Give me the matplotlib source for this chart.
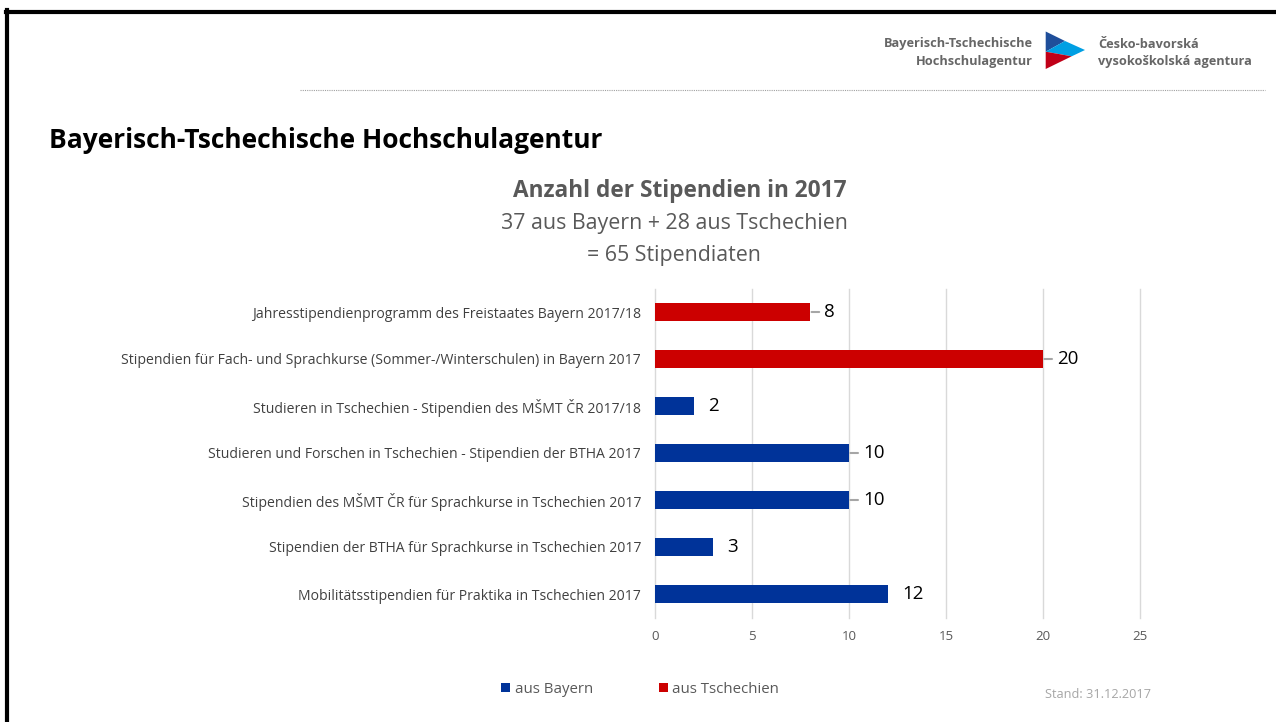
import matplotlib
matplotlib.use("Agg")
import matplotlib.pyplot as plt
from matplotlib.patches import Polygon, Rectangle
from matplotlib.lines import Line2D

plt.rcParams['font.family'] = ['Open Sans', 'DejaVu Sans']

# ---- data ----
categories = [
    "Jahresstipendienprogramm des Freistaates Bayern 2017/18",
    "Stipendien für Fach- und Sprachkurse (Sommer-/Winterschulen) in Bayern 2017",
    "Studieren in Tschechien - Stipendien des MŠMT ČR 2017/18",
    "Studieren und Forschen in Tschechien - Stipendien der BTHA 2017",
    "Stipendien des MŠMT ČR für Sprachkurse in Tschechien 2017",
    "Stipendien der BTHA für Sprachkurse in Tschechien 2017",
    "Mobilitätsstipendien für Praktika in Tschechien 2017",
]
values = [8, 20, 2, 10, 10, 3, 12]
groups = ["aus Tschechien", "aus Tschechien", "aus Bayern", "aus Bayern",
          "aus Bayern", "aus Bayern", "aus Bayern"]
series_names = ["aus Bayern", "aus Tschechien"]
x_ticks = [0, 5, 10, 15, 20, 25]

# ---- styles ----
colors = {"aus Bayern": "#003399", "aus Tschechien": "#CC0000"}
leader_lines = [True, True, False, True, True, False, False]

W, H = 1276, 722
fig = plt.figure(figsize=(W / 100, H / 100), dpi=100)
fig.patch.set_facecolor("white")

def fx(px):
    return px / W

def fy(py):
    return 1 - py / H

# frame lines (top and left)
fig.add_artist(Line2D([fx(6), fx(W)], [fy(11.5), fy(11.5)], color="black", lw=3, transform=fig.transFigure))
fig.add_artist(Line2D([fx(6.5), fx(6.5)], [fy(10), fy(H)], color="black", lw=3, transform=fig.transFigure))

# dotted separator line
fig.add_artist(Line2D([fx(300), fx(1265)], [fy(90), fy(90)], color="#A0A0A0", lw=0.8,
                      linestyle=(0, (1, 1)), transform=fig.transFigure))

# logo
logo_col = "#666666"
fig.text(fx(1033), fy(44), "Bayerisch-Tschechische", ha="right", va="center", fontsize=9.2,
         fontweight="bold", color=logo_col)
fig.text(fx(1033), fy(61), "Hochschulagentur", ha="right", va="center", fontsize=9.2,
         fontweight="bold", color=logo_col)
fig.text(fx(1098), fy(44), "Česko-bavorská", ha="left", va="center", fontsize=9.2,
         fontweight="bold", color=logo_col)
fig.text(fx(1098), fy(61), "vysokoškolská agentura", ha="left", va="center", fontsize=9.2,
         fontweight="bold", color=logo_col)

def P(pts):
    return [(fx(a), fy(b)) for a, b in pts]

A, B, C = (1045.7, 31.5), (1085, 50), (1045.7, 69)
M, U, L = (1045.7, 51.7), (1065, 41), (1071.7, 56.3)
fig.add_artist(Polygon(P([A, U, M]), closed=True, color="#1F4E9A", lw=0, transform=fig.transFigure))
fig.add_artist(Polygon(P([M, U, B, L]), closed=True, color="#009FE3", lw=0, transform=fig.transFigure))
fig.add_artist(Polygon(P([M, L, C]), closed=True, color="#C00018", lw=0, transform=fig.transFigure))

# headings
fig.text(fx(49), fy(141), "Bayerisch-Tschechische Hochschulagentur", ha="left", va="center",
         fontsize=19, fontweight="bold", color="black")
fig.text(fx(680), fy(191), "Anzahl der Stipendien in 2017", ha="center", va="center",
         fontsize=16.3, fontweight="bold", color="#595959")
fig.text(fx(674), fy(224), "37 aus Bayern + 28 aus Tschechien", ha="center", va="center",
         fontsize=15.4, color="#595959")
fig.text(fx(674), fy(255), "= 65 Stipendiaten", ha="center", va="center",
         fontsize=15.4, color="#595959")

# axes
left, right, top, bottom = 655, 1140, 288.5, 617.5
ax = fig.add_axes([fx(left), fy(bottom), fx(right - left), (bottom - top) / H])
n = len(categories)
ypos = list(range(n))
bar_colors = [colors[g] for g in groups]
ax.barh(ypos, values, height=0.4, color=bar_colors, zorder=3)
ax.set_ylim(n - 0.5, -0.5)
ax.set_xlim(0, 25)
ax.set_xticks(x_ticks)
ax.set_xticklabels([str(t) for t in x_ticks])
ax.set_yticks(ypos)
ax.set_yticklabels(categories)
ax.tick_params(axis="y", length=0, pad=10, labelsize=10.1, labelcolor="#404040")
ax.tick_params(axis="x", length=0, pad=9, labelsize=9.5, labelcolor="#595959")
for s in ax.spines.values():
    s.set_visible(False)
ax.grid(axis="x", color="#D9D9D9", lw=1, zorder=0)
for gl in ax.get_xgridlines():
    gl.set_clip_on(False)

for i, (v, ld) in enumerate(zip(values, leader_lines)):
    if ld:
        ax.annotate("", xy=(v, i), xytext=(9, 0), textcoords="offset pixels",
                    xycoords="data",
                    arrowprops=dict(arrowstyle="-", color="#A6A6A6", lw=1.5,
                                    shrinkA=0, shrinkB=1))
    ax.annotate(str(v), xy=(v, i), xytext=(14, 0), textcoords="offset pixels",
                ha="left", va="center", fontsize=13.5, color="black")

# legend
leg_y = 689
for name, lx in zip(series_names, [501, 658.5]):
    fig.add_artist(Rectangle((fx(lx), fy(leg_y + 3)), fx(9), 9 / H, color=colors[name],
                             lw=0, transform=fig.transFigure))
    fig.text(fx(lx + 14), fy(leg_y + 0.5), name, ha="left", va="center", fontsize=10.8,
             color="#595959")

fig.text(fx(1045), fy(694), "Stand: 31.12.2017", ha="left", va="center", fontsize=9.2,
         color="#A6A6A6")

fig.savefig("out.png", dpi=100)
